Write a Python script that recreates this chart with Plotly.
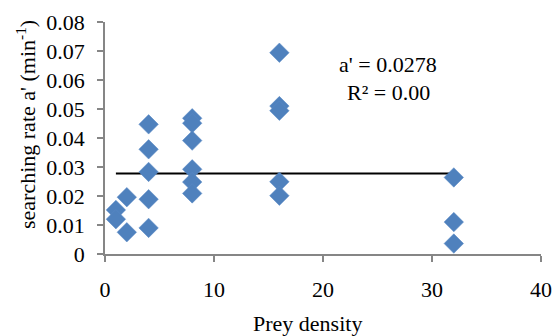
import plotly.graph_objects as go

# Data
prey_density = [1, 1, 2, 2,
                4, 4, 4, 4, 4,
                8, 8, 8, 8, 8, 8,
                16, 16, 16, 16, 16,
                32, 32, 32]
searching_rate = [0.0152, 0.0120, 0.0196, 0.0075,
                  0.0447, 0.0361, 0.0283, 0.0189, 0.0090,
                  0.0468, 0.0451, 0.0391, 0.0292, 0.0248, 0.0209,
                  0.0694, 0.0510, 0.0494, 0.0249, 0.0201,
                  0.0264, 0.0110, 0.0036]
trend_x = [1, 32]
trend_y = [0.0278, 0.0278]
x_ticks = [0, 10, 20, 30, 40]
y_ticks = [0, 0.01, 0.02, 0.03, 0.04, 0.05, 0.06, 0.07, 0.08]
y_tick_text = ["0", "0.01", "0.02", "0.03", "0.04", "0.05", "0.06", "0.07", "0.08"]

FONT = "Liberation Serif, Times New Roman, serif"
AXIS_COLOR = "#868686"

fig = go.Figure()
fig.add_trace(go.Scatter(
    x=trend_x, y=trend_y, mode="lines",
    line=dict(color="black", width=2), showlegend=False, hoverinfo="skip"))
fig.add_trace(go.Scatter(
    x=prey_density, y=searching_rate, mode="markers",
    marker=dict(symbol="diamond", size=15, color="#4F81BD",
                line=dict(color="#5B8BC6", width=0.5)),
    showlegend=False))

fig.update_layout(
    width=553, height=336,
    margin=dict(l=105, r=12, t=22, b=82),
    paper_bgcolor="white", plot_bgcolor="white",
    font=dict(family=FONT, size=22, color="black"),
    xaxis=dict(range=[0, 40], tickvals=x_ticks, showgrid=False, zeroline=False,
               showline=True, linecolor=AXIS_COLOR, linewidth=1.5,
               ticks="outside", tickcolor=AXIS_COLOR, ticklen=6, tickwidth=1.5,
               ticklabelstandoff=9, automargin=False),
    yaxis=dict(range=[0, 0.08], tickvals=y_ticks, ticktext=y_tick_text,
               showgrid=False, zeroline=False,
               showline=True, linecolor=AXIS_COLOR, linewidth=1.5,
               ticks="outside", tickcolor=AXIS_COLOR, ticklen=6, tickwidth=1.5,
               ticklabelstandoff=8, automargin=False),
    annotations=[
        dict(text="a' = 0.0278", x=388, y=65, xref="paper", yref="paper",
             showarrow=False, xanchor="center", yanchor="middle"),
        dict(text="R² = 0.00", x=388, y=92, xref="paper", yref="paper",
             showarrow=False, xanchor="center", yanchor="middle"),
        dict(text="Prey density", x=307, y=323, xref="paper", yref="paper",
             showarrow=False, xanchor="center", yanchor="middle"),
        dict(text="searching rate a' (min<sup>-1</sup>)", x=26, y=125,
             xref="paper", yref="paper", textangle=-90,
             showarrow=False, xanchor="center", yanchor="middle"),
    ],
)

# convert pixel positions of annotations to paper coordinates
pl, pr, pt, pb = 105, 553 - 12, 22, 336 - 82
for a in fig.layout.annotations:
    px, py = a.x, a.y
    a.x = (px - pl) / (pr - pl)
    a.y = (pb - py) / (pb - pt)

fig.write_html("out.html")
